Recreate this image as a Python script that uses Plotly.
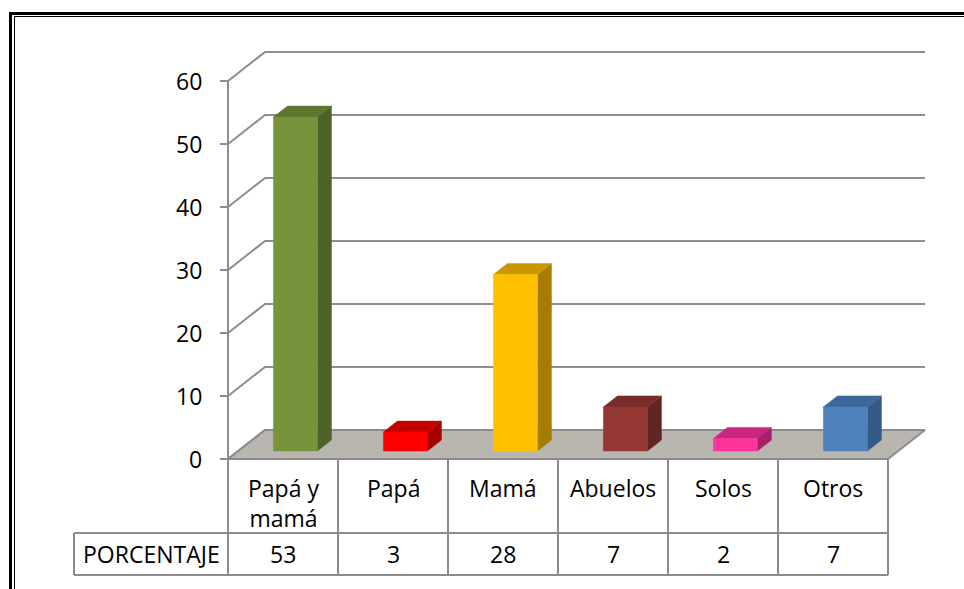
import plotly.graph_objects as go

# ---------------- data ----------------
categories = ["Papá y<br>mamá", "Papá", "Mamá", "Abuelos", "Solos", "Otros"]
values = [53, 3, 28, 7, 2, 7]
row_label = "PORCENTAJE"
y_ticks = [0, 10, 20, 30, 40, 50, 60]

front_colors = ["#77933C", "#FF0000", "#FFC000", "#953735", "#FF3399", "#4F81BD"]
side_colors = ["#4F6228", "#A80000", "#A67C00", "#632523", "#A8206A", "#345A88"]
top_colors = ["#5E7630", "#C40000", "#C99800", "#772C2A", "#C8267F", "#3D679A"]

# ---------------- geometry constants (styling) ----------------
W, H = 964, 589
PX_X = 110.0      # pixels per category slot
PX_Y = 6.3        # pixels per value unit
X0_PX, Y0_PX = 228, 459
DX = 37 / PX_X    # depth offset (x) of the back wall
DY = 29 / PX_Y    # depth offset (y) of the back wall
D1, D2 = 0.276, 0.655   # bar front / back depth fractions
BAR_C, BAR_HW = 0.52, 0.2
FONT = "Open Sans"
FS = 23
GRID = "#8E8E8E"


def px_x(p):
    return (p - X0_PX) / PX_X


def px_y(p):
    return (Y0_PX - p) / PX_Y


n = len(categories)
vmax = max(y_ticks)
fig = go.Figure()


def poly(xs, ys, fill, line_color=None, width=0):
    fig.add_trace(go.Scatter(
        x=xs + [xs[0]], y=ys + [ys[0]], mode="lines", fill="toself",
        fillcolor=fill, line=dict(color=line_color or fill, width=width),
        hoverinfo="skip", showlegend=False))


def seg(xs, ys, color=GRID, width=2):
    fig.add_trace(go.Scatter(
        x=xs, y=ys, mode="lines", line=dict(color=color, width=width),
        hoverinfo="skip", showlegend=False))


# gridlines on back wall + side wall diagonals
for t in y_ticks:
    seg([px_x(220), 0, DX, n + DX], [t, t, t + DY, t + DY])
# front vertical axis
seg([0, 0], [0, vmax])

# floor
poly([0, n, n + DX, DX], [0, 0, DY, DY], "#B9B6AF", "#8C8C8C", 2)

# bars
for i, v in enumerate(values):
    xl = i + BAR_C - BAR_HW
    xr = i + BAR_C + BAR_HW
    f1x, f1y = D1 * DX, D1 * DY
    f2x, f2y = D2 * DX, D2 * DY
    # side
    poly([xr + f1x, xr + f2x, xr + f2x, xr + f1x],
         [f1y, f2y, v + f2y, v + f1y], side_colors[i], side_colors[i], 0.5)
    # top
    poly([xl + f1x, xr + f1x, xr + f2x, xl + f2x],
         [v + f1y, v + f1y, v + f2y, v + f2y], top_colors[i], top_colors[i], 0.5)
    # front
    poly([xl + f1x, xr + f1x, xr + f1x, xl + f1x],
         [f1y, f1y, v + f1y, v + f1y], front_colors[i], front_colors[i], 0.5)

# data table lines
row1_bot = px_y(533)
row2_bot = px_y(575)
left_cell = px_x(74)
shapes = []
TL = dict(color="#8C8C8C", width=2)
for k in range(n + 1):
    shapes.append(dict(type="line", xref="x", yref="y", x0=k, x1=k, y0=0, y1=row2_bot, line=TL))
shapes.append(dict(type="line", xref="x", yref="y", x0=left_cell, x1=n, y0=row1_bot, y1=row1_bot, line=TL))
shapes.append(dict(type="line", xref="x", yref="y", x0=left_cell, x1=n, y0=row2_bot, y1=row2_bot, line=TL))
shapes.append(dict(type="line", xref="x", yref="y", x0=left_cell, x1=left_cell, y0=row1_bot, y1=row2_bot, line=TL))

# outer double frame (paper coords)
def pxp(p):
    return p / W


def pyp(p):
    return 1 - p / H


shapes.append(dict(type="rect", xref="paper", yref="paper",
                   x0=pxp(10.5), x1=pxp(W + 20), y0=pyp(13.5), y1=pyp(H + 20),
                   line=dict(color="black", width=3)))
shapes.append(dict(type="rect", xref="paper", yref="paper",
                   x0=pxp(14.5), x1=pxp(W + 20), y0=pyp(16.5), y1=pyp(H + 20),
                   line=dict(color="black", width=1)))

annotations = []
font = dict(family=FONT, size=FS, color="black")
for t in y_ticks:
    annotations.append(dict(x=px_x(204), y=t, xref="x", yref="y", text=str(t),
                            showarrow=False, xanchor="right", yanchor="middle", font=font))
for i, c in enumerate(categories):
    annotations.append(dict(x=i + 0.5, y=px_y(470), xref="x", yref="y", text=c,
                            showarrow=False, xanchor="center", yanchor="top", font=font))
    annotations.append(dict(x=i + 0.5, y=(row1_bot + row2_bot) / 2, xref="x", yref="y",
                            text=str(values[i]), showarrow=False, xanchor="center",
                            yanchor="middle", font=font))
annotations.append(dict(x=(left_cell + 0) / 2, y=(row1_bot + row2_bot) / 2, xref="x", yref="y",
                        text=row_label, showarrow=False, xanchor="center", yanchor="middle",
                        font=font))

fig.update_layout(
    width=W, height=H,
    margin=dict(l=0, r=0, t=0, b=0),
    paper_bgcolor="white", plot_bgcolor="white",
    xaxis=dict(range=[-X0_PX / PX_X, (W - X0_PX) / PX_X], visible=False, fixedrange=True),
    yaxis=dict(range=[-(H - Y0_PX) / PX_Y, Y0_PX / PX_Y], visible=False, fixedrange=True),
    shapes=shapes, annotations=annotations, showlegend=False,
)

fig.write_html(
    "out.html",
    config={"displayModeBar": False},
    post_script="document.body.style.margin='0';document.body.style.overflow='hidden';",
)
